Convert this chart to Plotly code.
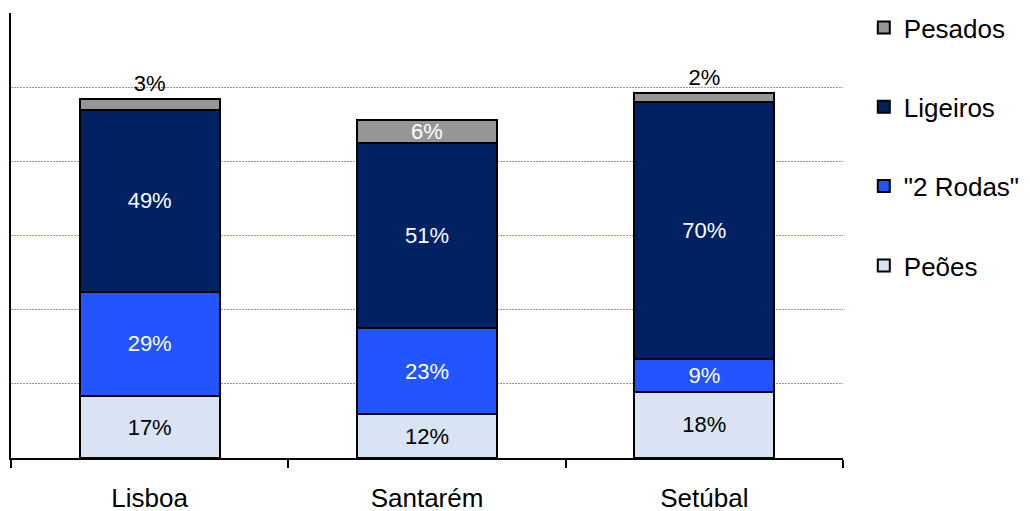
import plotly.graph_objects as go

categories = ["Lisboa", "Santarém", "Setúbal"]
peoes = [8.35, 5.9, 8.9]
duas_rodas = [14.1, 11.6, 4.4]
ligeiros = [24.5, 25.0, 34.7]
pesados = [1.5, 3.1, 1.2]

peoes_lbl = ["17%", "12%", "18%"]
duas_rodas_lbl = ["29%", "23%", "9%"]
ligeiros_lbl = ["49%", "51%", "70%"]
pesados_lbl = ["3%", "6%", "2%"]
pesados_pos = ["outside", "inside", "outside"]

FONT = "Liberation Sans, Arial, sans-serif"
series = [
    ("Peões", peoes, peoes_lbl, "#D9E3F3", "black", "inside", 4),
    ('"2 Rodas"', duas_rodas, duas_rodas_lbl, "#2255FF", "white", "inside", 3),
    ("Ligeiros", ligeiros, ligeiros_lbl, "#002262", "white", "inside", 2),
    ("Pesados", pesados, pesados_lbl, "#969696", "white", pesados_pos, 1),
]

fig = go.Figure()
for name, vals, lbl, color, tcolor, pos, rank in series:
    fig.add_trace(go.Bar(
        x=categories, y=vals, name=name, text=lbl,
        textposition=pos, textangle=0, constraintext="none",
        insidetextanchor="middle",
        insidetextfont=dict(color=tcolor, size=22, family=FONT),
        outsidetextfont=dict(color="black", size=22, family=FONT),
        marker=dict(color=color, line=dict(color="black", width=2)),
        legendgroup=name, legendrank=rank, width=0.505,
        hoverinfo="skip",
    ))

# page body has an 8px default margin: figure is sized/offset to compensate
fig.update_layout(
    barmode="stack",
    width=1022, height=503,
    margin=dict(l=3, r=187, t=5, b=53, autoexpand=False),
    paper_bgcolor="white", plot_bgcolor="white",
    font=dict(family=FONT, size=26, color="black"),
    showlegend=True,
    legend=dict(
        traceorder="grouped", tracegroupgap=42.5,
        x=1.025, y=1.02, xanchor="left", yanchor="top",
        font=dict(size=26, family=FONT, color="black"),
        itemwidth=30, maxheight=1,
    ),
)
fig.update_xaxes(
    showline=True, linecolor="black", linewidth=2, automargin=False,
    ticks="outside", tickson="boundaries", ticklen=8, tickwidth=2, tickcolor="black",
    tickfont=dict(size=26, family=FONT), showgrid=False, ticklabelstandoff=16,
)
fig.update_yaxes(
    range=[0, 60], dtick=10, showticklabels=False, automargin=False,
    showline=True, linecolor="black", linewidth=2,
    showgrid=True, gridcolor="#8797C8", griddash="2px,1px", gridwidth=1,
    zeroline=False, ticks="",
)
fig.write_html("out.html")
